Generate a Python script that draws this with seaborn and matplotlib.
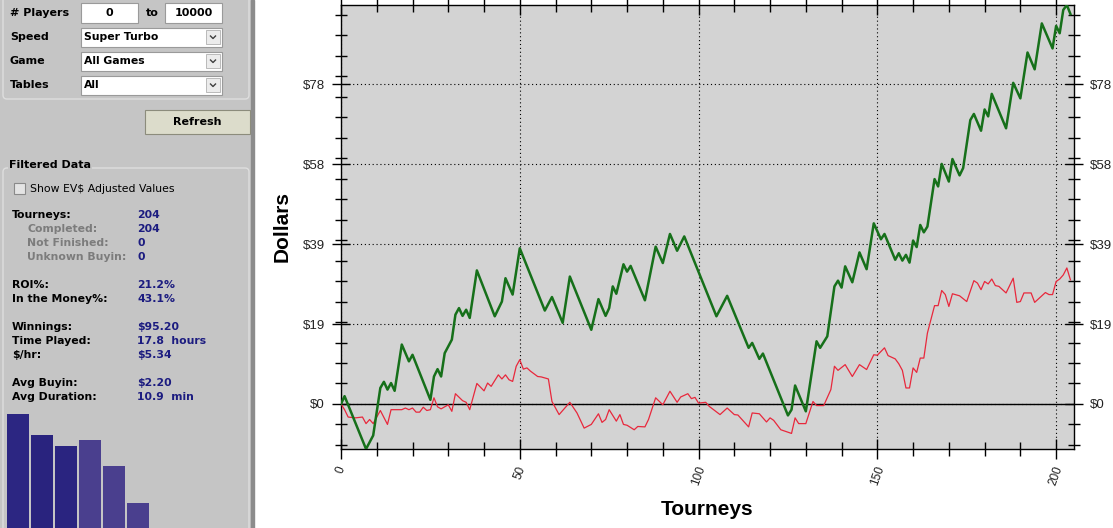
import matplotlib.pyplot as plt
import matplotlib.patches as mpatches
from matplotlib.ticker import MultipleLocator, FixedLocator
import pandas as pd
import seaborn as sns

# Cumulative winnings (green), read at the corners of the line
won_tourney = [0, 1, 7, 9, 11, 12, 13, 14, 15, 17, 19, 20, 25, 26, 27, 28, 29, 31, 32, 33,
               34, 35, 36, 38, 43, 45, 46, 48, 50, 57, 59, 62, 64, 70, 72, 74, 75, 76, 77, 79,
               80, 81, 85, 88, 90, 92, 94, 96, 105, 108, 114, 115, 117, 118, 125, 126, 127, 130,
               133, 134, 136, 138, 139, 140, 141, 143, 145, 147, 149, 151, 152, 155, 156, 157,
               158, 159, 160, 161, 162, 163, 164, 166, 167, 168, 170, 171, 173, 174, 176, 177,
               179, 180, 181, 182, 186, 188, 190, 192, 194, 196, 199, 200, 201, 202, 203, 204]
won_dollars = [0.0, 1.9, -11.0, -7.7, 3.9, 5.4, 3.5, 5.1, 3.2, 14.5, 10.4, 12.0, 1.0, 6.7, 8.5,
               6.7, 12.4, 15.7, 21.8, 23.4, 21.5, 23.0, 21.0, 32.6, 21.4, 25.0, 30.7, 26.7, 38.0,
               22.8, 26.1, 19.8, 31.1, 18.1, 25.6, 21.5, 23.4, 28.7, 26.9, 34.1, 32.3, 33.7, 25.3,
               38.4, 34.4, 41.5, 37.4, 40.9, 21.4, 26.4, 13.7, 14.9, 11.0, 12.3, -2.8, -1.4, 4.5,
               -1.8, 15.3, 13.7, 16.5, 28.7, 30.1, 28.4, 33.6, 29.7, 37.0, 32.9, 44.1, 40.2, 41.5,
               35.2, 36.8, 35.0, 36.4, 34.5, 39.9, 38.3, 43.7, 41.9, 43.3, 54.9, 53.1, 58.6, 54.3,
               59.8, 55.8, 57.6, 69.3, 70.8, 66.7, 71.9, 70.2, 75.7, 67.3, 78.4, 74.6, 85.8, 81.7,
               92.9, 86.8, 92.3, 90.5, 96.2, 97.4, 95.2]

# Second series (red)
ev_tourney = [0, 1, 2, 4, 6, 7, 8, 9, 11, 13, 14, 17, 18, 19, 20, 21, 22, 23, 24, 25, 26, 27,
              28, 30, 31, 32, 34, 35, 36, 38, 40, 41, 42, 44, 45, 46, 47, 48, 49, 50, 51, 52,
              53, 55, 56, 58, 59, 61, 64, 66, 68, 70, 72, 73, 74, 75, 77, 78, 79, 80, 82, 83,
              85, 86, 88, 90, 92, 94, 95, 97, 98, 99, 100, 102, 103, 106, 108, 110, 111, 114,
              115, 117, 119, 120, 121, 123, 126, 127, 128, 130, 132, 133, 135, 137, 138, 139,
              141, 143, 145, 147, 149, 150, 152, 153, 155, 156, 157, 158, 159, 160, 161, 162,
              163, 164, 166, 167, 168, 169, 170, 171, 173, 175, 177, 178, 179, 180, 181, 182,
              183, 184, 186, 188, 189, 190, 191, 193, 194, 197, 198, 199, 200, 201, 202, 203, 204]
ev_dollars = [0.0, -1.4, -3.2, -3.4, -3.2, -4.8, -3.8, -4.8, -1.6, -5.0, -1.4, -1.4, -1.0, -1.4,
              -1.0, -2.0, -2.0, -0.8, -1.6, -1.4, 1.5, -0.7, -1.2, -0.2, -1.8, 2.5, 0.8, 0.4, -1.4,
              5.0, 3.2, 5.1, 4.3, 7.1, 6.1, 7.1, 5.9, 5.5, 9.2, 10.8, 8.5, 8.8, 8.0, 6.7, 6.6, 6.1,
              0.6, -2.6, 0.4, -2.2, -5.9, -5.0, -2.4, -4.5, -3.8, -1.4, -4.2, -2.6, -5.0, -5.2,
              -6.3, -5.5, -5.6, -3.8, 1.5, -0.2, 3.1, 0.4, 1.7, 2.5, 1.3, 1.6, 0.2, 0.4, -0.6,
              -2.6, -1.0, -2.6, -2.7, -5.6, -2.2, -2.4, -4.4, -3.4, -4.0, -6.3, -7.2, -3.4, -4.8,
              -4.8, 0.6, -0.4, -0.4, 3.5, 9.2, 8.2, 9.6, 6.7, 9.6, 8.4, 12.0, 11.9, 13.7, 11.8,
              11.0, 9.8, 8.2, 3.9, 3.9, 8.8, 7.7, 11.2, 11.2, 17.3, 24.0, 24.0, 27.7, 26.7, 23.8,
              26.9, 26.4, 25.0, 30.1, 29.5, 27.9, 29.9, 29.3, 30.5, 28.9, 28.7, 27.1, 30.7, 24.8,
              25.0, 27.1, 27.1, 24.8, 27.2, 26.7, 26.7, 29.9, 30.5, 31.5, 33.2, 30.3]

dollar_ticks = [0, 19.5, 39, 58.5, 78]
dollar_labels = ['$0', '$19', '$39', '$58', '$78']
tourney_ticks = [0, 50, 100, 150, 200]
tourney_max = 205

# Left panel content
filter_labels = ['# Players', 'Speed', 'Game', 'Tables']
players_range = ['0', '10000']
filter_values = ['Super Turbo', 'All Games', 'All']
stat_labels = ['Tourneys:', 'Completed:', 'Not Finished:', 'Unknown Buyin:', 'ROI%:',
               'In the Money%:', 'Winnings:', 'Time Played:', '$/hr:', 'Avg Buyin:',
               'Avg Duration:']
stat_values = ['204', '204', '0', '0', '21.2%', '43.1%', '$95.20', '17.8  hours', '$5.34',
               '$2.20', '10.9  min']
stat_rows = [0, 1, 2, 3, 5, 6, 8, 9, 10, 12, 13]
stat_sub = [False, True, True, True, False, False, False, False, False, False, False]
place_counts = [114, 93, 82, 88, 62, 25]

W, H = 1113, 528
fig = plt.figure(figsize=(W / 100, H / 100), dpi=100)
fig.patch.set_facecolor('white')


def px_axes(x0, y0, x1, y1):
    """Axes from a pixel box given with the origin at the top left."""
    return fig.add_axes([x0 / W, 1 - y1 / H, (x1 - x0) / W, (y1 - y0) / H])


# ---- left panel ----
panel = px_axes(0, 0, 256, H)
panel.set_xlim(0, 256)
panel.set_ylim(H, 0)
panel.axis('off')
PF = 'DejaVu Sans'
FS = 8.0
panel.add_patch(mpatches.Rectangle((0, 0), 251, H, color='#c5c5c5', zorder=0))
panel.add_patch(mpatches.Rectangle((251, 0), 3, H, color='#8c8c8c', zorder=0))
panel.add_patch(mpatches.FancyBboxPatch((3, -6), 246, 105, boxstyle='round,pad=0,rounding_size=4',
                                        fc='none', ec='#dedede', lw=1))
panel.add_patch(mpatches.FancyBboxPatch((3, 168), 246, 370, boxstyle='round,pad=0,rounding_size=4',
                                        fc='none', ec='#dedede', lw=1))

row_y = [13, 37, 61, 85]
for lab, y in zip(filter_labels, row_y):
    panel.text(10, y, lab, family=PF, weight='bold', fontsize=FS, va='center')
for (x0, x1), txt in zip([(81, 138), (165, 222)], players_range):
    panel.add_patch(mpatches.Rectangle((x0, 3), x1 - x0, 20, fc='white', ec='#9a9a9a', lw=0.8))
    panel.text((x0 + x1) / 2, 13.5, txt, family=PF, weight='bold', fontsize=FS,
               ha='center', va='center')
panel.text(152, 13.5, 'to', family=PF, weight='bold', fontsize=FS, ha='center', va='center')
for txt, y in zip(filter_values, row_y[1:]):
    panel.add_patch(mpatches.Rectangle((81, y - 9), 141, 18.5, fc='white', ec='#9a9a9a', lw=0.8))
    panel.add_patch(mpatches.Rectangle((206, y - 7), 14, 14, fc='#ececec', ec='#b0b0b0', lw=0.6))
    panel.plot([210.5, 213, 215.5], [y - 1, y + 1.5, y - 1], color='#404040', lw=1)
    panel.text(84, y, txt, family=PF, weight='bold', fontsize=FS - 0.2, va='center')

panel.add_patch(mpatches.Rectangle((145, 110), 105, 24, fc='#dcdccb', ec='#8c8c7c', lw=0.8))
panel.text(197.5, 122, 'Refresh', family=PF, weight='bold', fontsize=FS, ha='center', va='center')

panel.text(9, 165, 'Filtered Data', family=PF, weight='bold', fontsize=FS, va='center',
           bbox=dict(fc='#c5c5c5', ec='none', pad=1))
panel.add_patch(mpatches.Rectangle((13.5, 182.5), 11.5, 11.5, fc='#e4e4e4', ec='#8a8a8a', lw=0.8))
panel.text(30, 189, 'Show EV$ Adjusted Values', family=PF, fontsize=FS - 0.2, va='center')

for lab, val, r, sub in zip(stat_labels, stat_values, stat_rows, stat_sub):
    y = 215 + 14 * r
    panel.text(27 if sub else 12, y, lab, family=PF, weight='bold', fontsize=FS - 0.2,
               va='center', color='#7c7c7c' if sub else 'black')
    panel.text(137, y, val, family=PF, weight='bold', fontsize=FS - 0.2, va='center',
               color='#1c1c80')

bars = px_axes(6, 414, 150, H)
bar_colors = ['#2c2682', '#29237e', '#2a2480', '#4a3f8e', '#4a3f8e', '#4a3f8e']
sns.barplot(x=list(range(len(place_counts))), y=place_counts, hue=list(range(len(place_counts))),
            palette=bar_colors, width=0.958, legend=False, ax=bars, saturation=1)
bars.set_ylim(0, max(place_counts))
bars.axis('off')

# ---- main chart ----
ax = px_axes(341, 5, 1074, 449)
ax.set_facecolor('#d3d3d3')
won = pd.DataFrame({'Tourneys': won_tourney, 'Dollars': won_dollars})
ev = pd.DataFrame({'Tourneys': ev_tourney, 'Dollars': ev_dollars})

ax.axhline(0, color='black', lw=1, zorder=1.5)
sns.lineplot(data=ev, x='Tourneys', y='Dollars', color='#e8283c', lw=0.9, ax=ax, zorder=3)
sns.lineplot(data=won, x='Tourneys', y='Dollars', color='#16701a', lw=1.8, ax=ax, zorder=4)

ax.set_xlim(0, tourney_max)
ax.set_ylim(min(won_dollars), max(won_dollars))
ax.xaxis.set_major_locator(FixedLocator(tourney_ticks))
ax.xaxis.set_minor_locator(MultipleLocator(10))
ax.yaxis.set_major_locator(FixedLocator(dollar_ticks))
ax.yaxis.set_minor_locator(MultipleLocator(5))
ax.set_yticklabels(dollar_labels)
ax.grid(which='major', color='black', linestyle=(0, (1, 2.5)), lw=0.8, zorder=1)
for s in ax.spines.values():
    s.set_color('black')
    s.set_linewidth(1)

ax.tick_params(axis='y', which='both', left=True, right=True, labelright=True,
               direction='inout', color='black', labelsize=9.5, labelcolor='#222222',
               labelfontfamily='Liberation Sans', pad=5)
ax.tick_params(axis='y', which='major', length=13, width=1)
ax.tick_params(axis='y', which='minor', length=8, width=1)
ax.tick_params(axis='x', which='both', bottom=True, top=True, direction='inout', color='black',
               labelsize=8.5, labelcolor='#222222', labelfontfamily='Liberation Sans', pad=4)
ax.tick_params(axis='x', which='major', length=14, width=1)
ax.tick_params(axis='x', which='minor', length=10, width=1)
for lbl in ax.get_xticklabels():
    lbl.set_rotation(70)
    lbl.set_ha('center')

ax.set_xlabel('Tourneys', family='Liberation Sans', weight='bold', fontsize=15, labelpad=9)
ax.set_ylabel('Dollars', family='Liberation Sans', weight='bold', fontsize=15, labelpad=8)

fig.savefig('out.png', dpi=100)
